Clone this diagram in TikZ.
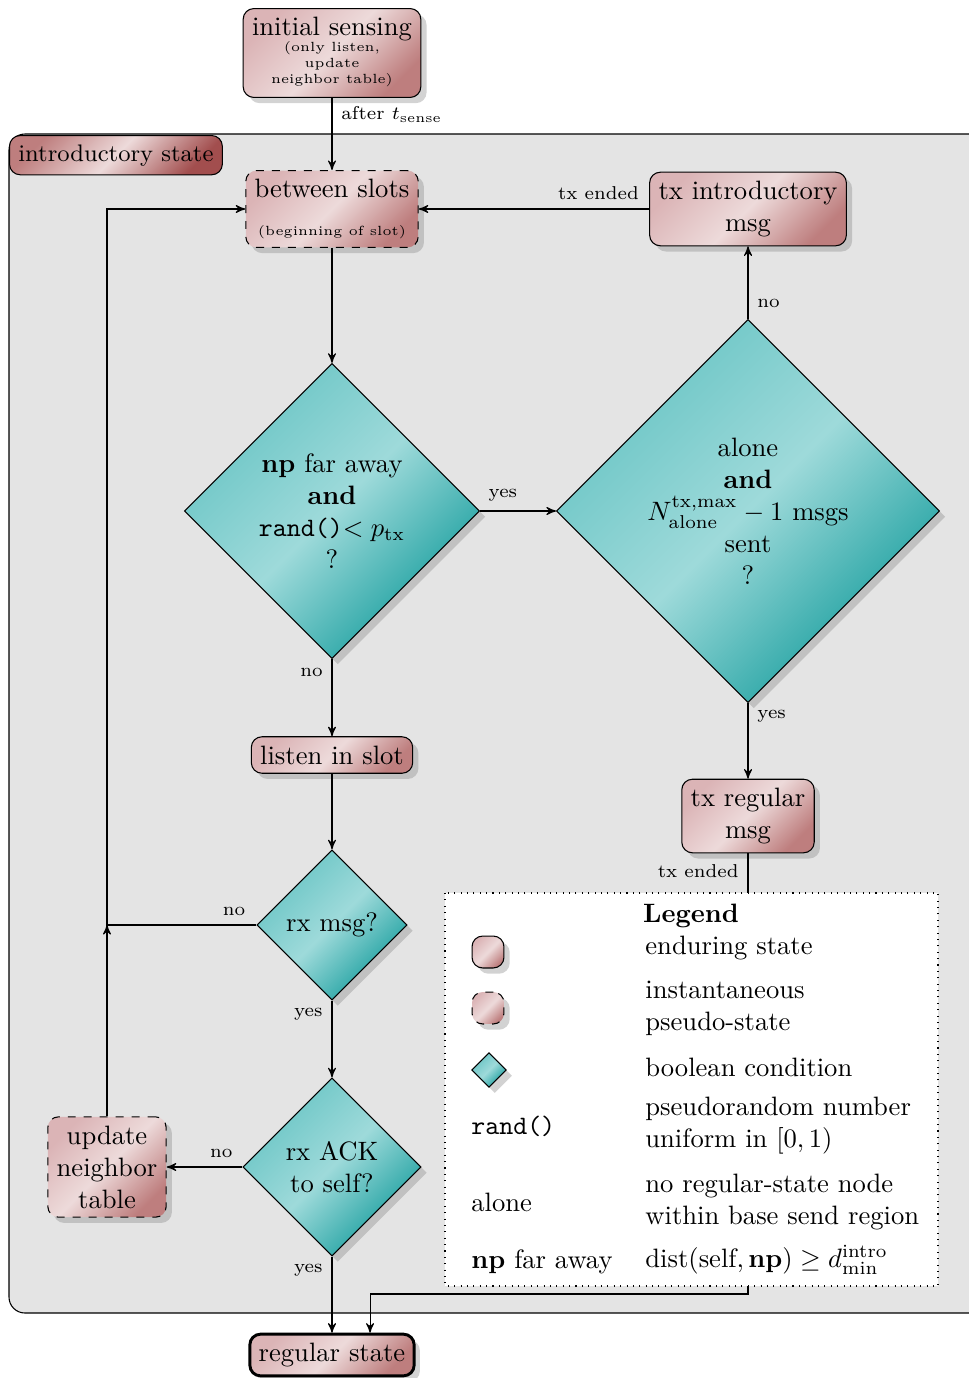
\documentclass[tikz,border=0pt]{standalone}
\usepackage{amsmath,amssymb}
\usepackage{tikz}
\usetikzlibrary{positioning,arrows,shapes.geometric,shadows}

\definecolor{boxlight}{RGB}{237,218,218}
\definecolor{boxmid}{RGB}{219,180,182}
\definecolor{boxdark}{RGB}{190,126,126}
\definecolor{introdark}{RGB}{162,78,78}
\definecolor{condlight}{RGB}{158,218,218}
\definecolor{condmid}{RGB}{104,196,196}
\definecolor{conddark}{RGB}{20,156,156}
\definecolor{regionfill}{RGB}{228,228,228}

\begin{document}
\begin{tikzpicture}[x=0.01322cm,y=-0.01322cm,>=stealth',
	enduring/.style={rectangle,rounded corners=4pt,draw=black,align=center,
		top color=boxmid,bottom color=boxdark,middle color=boxlight,shading angle=45,
		drop shadow={opacity=.35}},
	pseudo/.style={enduring,dashed},
	introbox/.style={rectangle,rounded corners=4pt,draw=black,font=\small,
		top color=boxdark,bottom color=introdark,middle color=boxlight,shading angle=45},
	cond/.style={diamond,draw=black,align=center,aspect=1,inner sep=0pt,
		top color=condmid,bottom color=conddark,middle color=condlight,shading angle=45,
		drop shadow={opacity=.35}},
	lbl/.style={font=\scriptsize}]

		\useasboundingbox (0,0) rectangle (969,1378);

		%introductory state region
		\draw[rounded corners=6pt,fill=regionfill] (9,134) rectangle (1010,1313);
		\node[introbox,anchor=north west] (intro) at (9,135) {introductory state};

		%states
		\node[enduring] (init) at (332,53) {initial sensing\\[-6pt]{\tiny\begin{tabular}[t]{@{}c@{}}(only listen,\\update\\neighbor table)\end{tabular}}};
		\node[pseudo] (between) at (332,209) {between slots\\[2pt]\tiny(beginning of slot)};
		\node[enduring] (txintro) at (748,209) {tx introductory\\msg};
		\node[enduring] (listen) at (332,755) {listen in slot};
		\node[enduring] (txreg) at (748,816) {tx regular\\msg};
		\node[pseudo] (update) at (107,1167) {update\\neighbor\\table};
		\node[enduring,line width=1.1pt] (regular) at (332,1355) {regular state};

		%conditions
		\node[cond,minimum size=111pt] (d1) at (332,511) {\textbf{np} far away\\\textbf{and}\\\texttt{rand()}$<p_{\text{tx}}$\\?};
		\node[cond,minimum size=144pt] (d2) at (748,511) {alone\\\textbf{and}\\$N^{\text{tx,max}}_{\text{alone}}-1$ msgs\\sent\\?};
		\node[cond,minimum size=56.5pt] (d3) at (332,925) {rx msg?};
		\node[cond,minimum size=67pt] (d4) at (332,1167) {rx ACK\\to self?};

		\coordinate (upjoin) at (107,925);
		\coordinate (bend) at (748,1294);

		%edges
		\draw[->] (init) -- node[lbl,right,pos=.23] {after $t_{\text{sense}}$} (between);
		\draw[->] (txintro) -- node[lbl,above,pos=.22] {tx ended} (between);
		\draw[->] (between) -- (d1);
		\draw[->] (d1) -- node[lbl,above,pos=.3] {yes} (d2);
		\draw[->] (d2) -- node[lbl,right,pos=.21] {no} (txintro);
		\draw[->] (d2) -- node[lbl,right,pos=.18] {yes} (txreg);
		\draw[->] (d1) -- node[lbl,left,pos=.17] {no} (listen);
		\draw[->] (listen) -- (d3);
		\draw[->] (d3) -- node[lbl,left,pos=.18] {yes} (d4);
		\draw[->] (d4) -- node[lbl,above,pos=.28] {no} (update);
		\draw[->] (d4) -- node[lbl,left,pos=.18] {yes} (regular);
		\draw[->] (update) -- (upjoin);
		\draw[->] (d3) -- node[lbl,above,pos=.15] {no} (upjoin) |- (between);
		\draw[->] (txreg) -- node[lbl,left,pos=.04] {tx ended} (bend) -| ([xshift=14.3pt]regular.north);

		%legend
		\draw[dotted,fill=white] (445,893) rectangle (938,1286);
		\node[font=\bfseries] (legtitle) at (691,916) {Legend};
		\node[enduring,minimum size=12pt,inner sep=0pt] (legenduring) at (488,952) {};
		\node[pseudo,minimum size=12pt,inner sep=0pt] (legpseudo) at (488,1008) {};
		\node[cond,minimum size=13pt] (legcond) at (489,1070) {};
		\node[anchor=west] (legrand) at (462,1126) {\texttt{rand()}};
		\node[anchor=west] (legalone) at (462,1202) {alone};
		\node[anchor=west] (legfar) at (462,1262) {\textbf{np} far away};
		\node[anchor=west,align=left] (txtenduring) at (636,948) {enduring state};
		\node[anchor=west,align=left] (txtpseudo) at (636,1008) {instantaneous\\pseudo-state};
		\node[anchor=west,align=left] (txtcond) at (636,1067) {boolean condition};
		\node[anchor=west,align=left] (txtrand) at (636,1126) {pseudorandom number\\uniform in $[0,1)$};
		\node[anchor=west,align=left] (txtalone) at (636,1202) {no regular-state node\\within base send region};
		\node[anchor=west,align=left] (txtfar) at (636,1260) {dist$(\text{self},\mathbf{np})\geq d^{\text{intro}}_{\text{min}}$};
\end{tikzpicture}
\end{document}
